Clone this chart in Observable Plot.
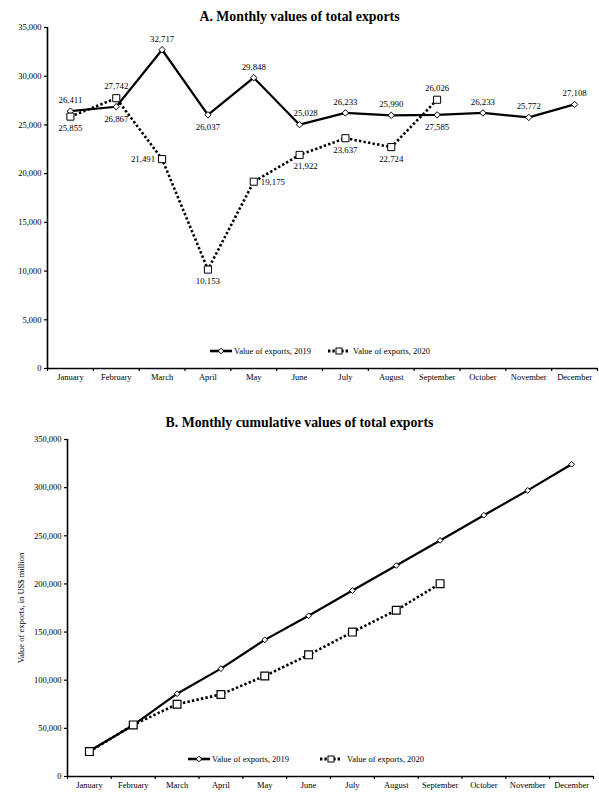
<!DOCTYPE html>
<html>
<head>
<meta charset="utf-8">
<script src="https://cdn.jsdelivr.net/npm/d3@7"></script>
<script src="https://cdn.jsdelivr.net/npm/@observablehq/plot@0.6"></script>
<style>
  body { margin: 0; background: white; }
  #wrap { position: relative; width: 599px; font-family: "Liberation Serif", "DejaVu Serif", serif; color: #000; }
  .title { text-align: center; font-weight: bold; font-size: 13.8px; line-height: 14px; height: 14px; }
  .legend { position: absolute; left: 0; width: 599px; height: 14px; overflow: visible; }
  svg { display: block; }
</style>
</head>
<body>
<div id="wrap"></div>
<script>
// ---- data ----
const months = ["January","February","March","April","May","June","July","August","September","October","November","December"];
const exports2019 = [26411, 26867, 32717, 26037, 29848, 25028, 26233, 25990, 26026, 26233, 25772, 27108];
const exports2020 = [25855, 27742, 21491, 10153, 19175, 21922, 23637, 22724, 27585];
// data labels as printed in the reference (September labels appear swapped there)
const labels2019 = ["26,411","26,867","32,717","26,037","29,848","25,028","26,233","25,990","27,585","26,233","25,772","27,108"];
const labels2020 = ["25,855","27,742","21,491","10,153","19,175","21,922","23,637","22,724","26,026"];
const cumulative2019 = [26411, 53278, 85995, 112032, 141880, 166908, 193141, 219131, 245157, 271390, 297162, 324270];
const cumulative2020 = [25855, 53597, 75088, 85241, 104416, 126338, 149975, 172699, 200284];
const yTicksA = [0, 5000, 10000, 15000, 20000, 25000, 30000, 35000];
const yTicksB = [0, 50000, 100000, 150000, 200000, 250000, 300000, 350000];
const seriesNames = ["Value of exports, 2019", "Value of exports, 2020"];

const FONT = "'Liberation Serif', 'DejaVu Serif', serif";
const fmt = d3.format(",");
const bandCenters = months.map((m, i) => i + 0.5);
const bandEdges = d3.range(months.length + 1);
const mx = d => d.i + 0.5;

// label placement (reference layout)
const placeA19 = {February: "below", April: "below", June: "aboveRight", September: "below"};
const placeA20 = {February: "above", March: "left", May: "right", June: "belowRight", September: "above"};

function rows(values, labels) {
  return values.map((v, i) => ({i, month: months[i], v, lab: labels ? labels[i] : ""}));
}

function commonAxes(yTicks, labelOpts) {
  return [
    Plot.axisY({ticks: yTicks, tickFormat: fmt, tickSize: 3, tickPadding: 3, strokeWidth: 1.2, ...labelOpts}),
    Plot.axisX({ticks: bandEdges, tickFormat: () => "", tickSize: 3, strokeWidth: 1.2}),
    Plot.axisX({ticks: bandCenters, tickFormat: d => months[Math.floor(d)], tickSize: 0, tickPadding: 5}),
    Plot.ruleX([0], {stroke: "black", strokeWidth: 1.6}),
    Plot.ruleY([0], {stroke: "black", strokeWidth: 1.6})
  ];
}

const dotted = {stroke: "black", strokeWidth: 2.6, strokeDasharray: "2.4 2.2", strokeLinecap: "butt"};
const solid = {stroke: "black", strokeWidth: 2.2};

function labelMarks(data, pos, base) {
  const o = {x: mx, y: "v", text: "lab", fontSize: 8.8};
  return [
    Plot.text(data, {...o, filter: d => pos(d) === "above", dy: -base}),
    Plot.text(data, {...o, filter: d => pos(d) === "below", dy: 12}),
    Plot.text(data, {...o, filter: d => pos(d) === "aboveRight", dy: -11, dx: 6}),
    Plot.text(data, {...o, filter: d => pos(d) === "belowRight", dy: 11, dx: 6}),
    Plot.text(data, {...o, filter: d => pos(d) === "left", dx: -7, textAnchor: "end"}),
    Plot.text(data, {...o, filter: d => pos(d) === "right", dx: 7, textAnchor: "start"})
  ];
}

function chartA() {
  const d19 = rows(exports2019, labels2019);
  const d20 = rows(exports2020, labels2020);
  const pos19 = d => placeA19[d.month] || "above";
  const pos20 = d => placeA20[d.month] || "below";
  return Plot.plot({
    width: 599, height: 366,
    marginTop: 3, marginBottom: 22, marginLeft: 47, marginRight: 2,
    style: `font-family: ${FONT}; font-size: 8.5px; color: black; background: white; overflow: visible;`,
    x: {type: "linear", domain: [0, 12], axis: null},
    y: {domain: [0, 35000], axis: null, label: null},
    marks: [
      ...commonAxes(yTicksA, {label: null}),
      Plot.line(d20, {x: mx, y: "v", ...dotted}),
      Plot.line(d19, {x: mx, y: "v", ...solid}),
      Plot.dot(d19, {x: mx, y: "v", symbol: "diamond2", r: 2.9, fill: "white", stroke: "black", strokeWidth: 1}),
      Plot.dot(d20, {x: mx, y: "v", symbol: "square", r: 4, fill: "white", stroke: "black", strokeWidth: 1}),
      ...labelMarks(d19, pos19, 11),
      ...labelMarks(d20, pos20, 12)
    ]
  });
}

function chartB() {
  const d19 = rows(cumulative2019);
  const d20 = rows(cumulative2020);
  return Plot.plot({
    width: 599, height: 366,
    marginTop: 9, marginBottom: 20, marginLeft: 67, marginRight: 6,
    style: `font-family: ${FONT}; font-size: 8.5px; color: black; background: white; overflow: visible;`,
    x: {type: "linear", domain: [0, 12], axis: null},
    y: {domain: [0, 350000], axis: null},
    marks: [
      ...commonAxes(yTicksB, {label: "Value of exports, in US$ million", labelAnchor: "center", labelArrow: "none", labelOffset: 50}),
      Plot.line(d20, {x: mx, y: "v", ...dotted}),
      Plot.line(d19, {x: mx, y: "v", ...solid}),
      Plot.dot(d19, {x: mx, y: "v", symbol: "diamond2", r: 2.6, fill: "white", stroke: "black", strokeWidth: 1}),
      Plot.dot(d20, {x: mx, y: "v", symbol: "square", r: 4.4, fill: "white", stroke: "black", strokeWidth: 1.2})
    ]
  });
}

function legend(top, items) {
  const ns = "http://www.w3.org/2000/svg";
  const svg = document.createElementNS(ns, "svg");
  svg.setAttribute("class", "legend");
  svg.setAttribute("width", 599);
  svg.setAttribute("height", 14);
  svg.style.top = (top - 7) + "px";
  const cy = 7;
  items.forEach((it, k) => {
    const line = document.createElementNS(ns, "line");
    line.setAttribute("x1", it.x); line.setAttribute("x2", it.x + 22);
    line.setAttribute("y1", cy); line.setAttribute("y2", cy);
    line.setAttribute("stroke", "black");
    line.setAttribute("stroke-width", k === 0 ? 2.6 : 2.8);
    if (k === 1) line.setAttribute("stroke-dasharray", "2.4 2");
    svg.appendChild(line);
    const cx = it.x + 11;
    let sym;
    if (k === 0) {
      sym = document.createElementNS(ns, "path");
      sym.setAttribute("d", `M${cx},${cy - 2.8}L${cx + 2.8},${cy}L${cx},${cy + 2.8}L${cx - 2.8},${cy}Z`);
    } else {
      sym = document.createElementNS(ns, "rect");
      sym.setAttribute("x", cx - 3); sym.setAttribute("y", cy - 3);
      sym.setAttribute("width", 6); sym.setAttribute("height", 6);
    }
    sym.setAttribute("fill", "white"); sym.setAttribute("stroke", "black"); sym.setAttribute("stroke-width", 1);
    svg.appendChild(sym);
    const t = document.createElementNS(ns, "text");
    t.setAttribute("x", it.tx); t.setAttribute("y", cy);
    t.setAttribute("dy", "0.32em");
    t.setAttribute("font-family", FONT); t.setAttribute("font-size", "8.5px");
    t.textContent = seriesNames[k];
    svg.appendChild(t);
  });
  return svg;
}

const wrap = document.getElementById("wrap");
const tA = document.createElement("div");
tA.className = "title"; tA.style.paddingTop = "10px";
tA.textContent = "A. Monthly values of total exports";
wrap.appendChild(tA);
wrap.appendChild(chartA());
const tB = document.createElement("div");
tB.className = "title"; tB.style.paddingTop = "26px";
tB.textContent = "B. Monthly cumulative values of total exports";
wrap.appendChild(tB);
wrap.appendChild(chartB());
wrap.appendChild(legend(351, [{x: 210, tx: 234}, {x: 328, tx: 353}]));
wrap.appendChild(legend(759, [{x: 188, tx: 212}, {x: 320, tx: 347}]));
</script>
</body>
</html>
